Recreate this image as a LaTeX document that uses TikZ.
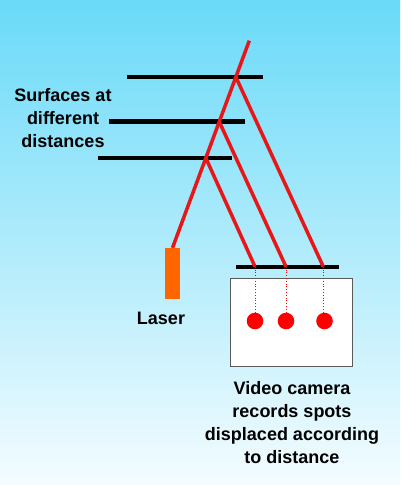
\documentclass[tikz,border=0pt]{standalone}
\usepackage{fontspec}
\setmainfont{Liberation Sans}
\usetikzlibrary{positioning}
\definecolor{skytop}{RGB}{106,218,248}
\definecolor{skylow}{RGB}{244,252,255}
\definecolor{beamred}{RGB}{232,22,22}
\definecolor{laserorange}{RGB}{255,102,0}

\begin{document}
\begin{tikzpicture}[x=1pt,y=-1pt,
  surface/.style={line width=4.5pt},
  beam/.style={beamred,line width=3.5pt},
  trace/.style={red,dotted,line width=0.8pt},
  spot/.style={circle,fill=red,draw=none,inner sep=0pt,minimum size=16.6pt},
  caption/.style={font=\fontsize{18}{23}\selectfont\bfseries,align=center,inner sep=0pt}]
\shade[top color=skytop,bottom color=skylow] (0,0) rectangle (400,485);
\useasboundingbox (0,0) rectangle (400,485);

\coordinate (farL) at (126.7,77);
\coordinate (farR) at (262.7,77);
\coordinate (midL) at (109,121.7);
\coordinate (midR) at (245,121.7);
\coordinate (nearL) at (98.3,158);
\coordinate (nearR) at (232.3,158);
\draw[surface] (farL) -- (farR);
\draw[surface] (midL) -- (midR);
\draw[surface] (nearL) -- (nearR);

\node[rectangle,fill=laserorange,draw=none,inner sep=0pt,minimum width=15.6pt,minimum height=50.7pt] (laser) at (172.5,273.4) {};
\coordinate (src) at (laser.north);
\coordinate (tip) at (249.3,40.7);

\coordinate (barL) at (236,266.7);
\coordinate (barR) at (339.3,266.7);
\coordinate (onnear) at (255,266.7);
\coordinate (onmid) at (286,266.7);
\coordinate (onfar) at (323.3,266.7);
\draw[line width=4pt] (barL) -- (barR);

\coordinate (hitfar) at (intersection of src--tip and farL--farR);
\coordinate (hitmid) at (intersection of src--tip and midL--midR);
\coordinate (hitnear) at (intersection of src--tip and nearL--nearR);

\draw[beam] (src) -- (tip);
\draw[beam] (hitnear) -- (onnear);
\draw[beam] (hitmid) -- (onmid);
\draw[beam] (hitfar) -- (onfar);

\node[rectangle,draw=gray!70!black,fill=white,line width=1pt,minimum width=121.6pt,minimum height=88.4pt] (camera) at (291.5,322.5) {};
\node[spot] (spotnear) at (255,321) {};
\node[spot] (spotmid) at (286,321) {};
\node[spot] (spotfar) at (324.5,321) {};
\draw[trace] (onnear) -- (onnear |- spotnear.north);
\draw[trace] (onmid) -- (onmid |- spotmid.north);
\draw[trace] (onfar) -- (onfar |- spotfar.north);

\node[caption] (surfaces) at (63,118) {Surfaces at\\different\\distances};
\node[caption] (laserlabel) at (161,318) {Laser};
\node[caption] (cameralabel) at (292,422.5) {Video camera\\records spots\\displaced according\\to distance};

\end{tikzpicture}
\end{document}
